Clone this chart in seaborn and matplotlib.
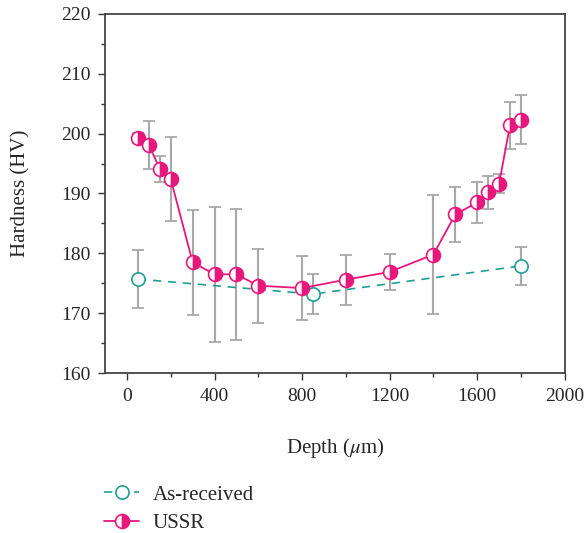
import numpy as np
import pandas as pd
import seaborn as sns
from matplotlib import pyplot as plt
from matplotlib.ticker import MultipleLocator

# USSR
depth_ussr = [50, 100, 150, 200, 300, 400, 500, 600, 800, 1000, 1200, 1400, 1500, 1600, 1650, 1700, 1750, 1800]
hv_ussr = [199.3, 198.1, 194.1, 192.4, 178.5, 176.5, 176.5, 174.6, 174.2, 175.6, 176.9, 179.8, 186.5, 188.5, 190.2, 191.6, 201.4, 202.3]
err_ussr = [0.8, 4.0, 2.2, 7.0, 8.8, 11.3, 10.9, 6.2, 5.4, 4.2, 3.0, 9.9, 4.6, 3.4, 2.8, 1.6, 3.9, 4.1]

# As-received
depth_ar = [50, 850, 1800]
hv_ar = [175.7, 173.2, 177.9]
err_ar = [4.8, 3.3, 3.2]

pink = '#E8177B'
teal = '#1F9E97'

sns.set_style('ticks')
plt.rcParams['font.family'] = ['Liberation Serif', 'DejaVu Serif']
plt.rcParams['mathtext.fontset'] = 'stix'

fig = plt.figure(figsize=(5.84, 5.33), dpi=100)
ax = fig.add_axes([0.180, 0.300, 0.787, 0.674])

ax.errorbar(depth_ussr, hv_ussr, yerr=err_ussr, fmt='none', ecolor='#a8a8a8', elinewidth=1.5, capsize=4, capthick=1.3, zorder=1)
ax.errorbar(depth_ar, hv_ar, yerr=err_ar, fmt='none', ecolor='#a8a8a8', elinewidth=1.5, capsize=4, capthick=1.3, zorder=1)

ar = pd.DataFrame({'depth': depth_ar, 'hv': hv_ar})
ussr = pd.DataFrame({'depth': depth_ussr, 'hv': hv_ussr})

sns.lineplot(data=ar, x='depth', y='hv', ax=ax, color=teal, linestyle=(0, (5, 4)), linewidth=1.2,
             marker='o', markersize=9.5, markerfacecolor='white', markeredgecolor=teal, markeredgewidth=1.2,
             label='As-received', zorder=2)
sns.lineplot(data=ussr, x='depth', y='hv', ax=ax, color=pink, linewidth=1.3,
             marker='o', markersize=10, fillstyle='right', markerfacecolor=pink, markerfacecoloralt='white',
             markeredgecolor=pink, markeredgewidth=1.2, label='USSR', zorder=3)

ax.set_xlim(-100, 2000)
ax.set_ylim(160, 220)
ax.xaxis.set_major_locator(MultipleLocator(400))
ax.xaxis.set_minor_locator(MultipleLocator(200))
ax.yaxis.set_major_locator(MultipleLocator(10))
ax.yaxis.set_minor_locator(MultipleLocator(5))
ax.tick_params(which='major', length=5, width=1, pad=5.5, labelsize=14, color='#333333')
ax.tick_params(which='minor', length=3, width=1, color='#333333')
for s in ax.spines.values():
    s.set_color('#444444')
    s.set_linewidth(1.3)

ax.set_xlabel('Depth ($\\mu$m)', fontsize=15)
ax.set_ylabel('Hardness (HV)', fontsize=15)
ax.xaxis.set_label_coords(0.5, -0.175)
ax.yaxis.set_label_coords(-0.163, 0.5)

h, l = ax.get_legend_handles_labels()
ax.legend_.remove()
fig.legend(h, l, loc='upper left', bbox_to_anchor=(0.178, 0.090), frameon=False, fontsize=15,
           handlelength=1.7, handletextpad=0.63, labelspacing=0.42, borderpad=0, borderaxespad=0)

plt.savefig('out.png', dpi=100)
